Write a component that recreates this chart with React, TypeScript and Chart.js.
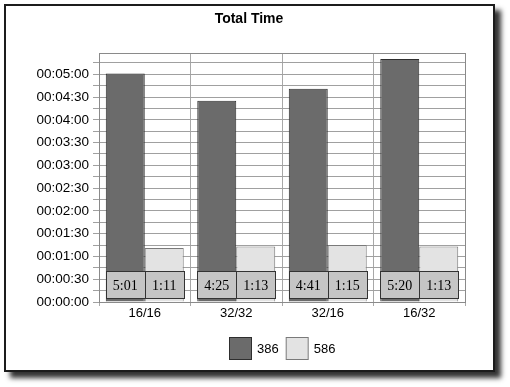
import { useEffect, useRef } from 'react';
import { Chart, registerables } from 'chart.js';

Chart.register(...registerables);

const CATEGORIES = ['16/16', '32/32', '32/16', '16/32'];
const SERIES_NAMES = ['386', '586'];
// seconds
const SERIES_386 = [301, 265, 281, 320];
const SERIES_586 = [71, 73, 75, 73];
const Y_TICKS = [0, 15, 30, 45, 60, 75, 90, 105, 120, 135, 150, 165, 180, 195, 210, 225, 240, 255, 270, 285, 300, 315];
const Y_LABELED = [0, 30, 60, 90, 120, 150, 180, 210, 240, 270, 300];
const Y_MAX = 328;
const TITLE = 'Total Time';

const SANS = "'Liberation Sans', Arial, sans-serif";
const SERIF = "'Liberation Serif', 'Times New Roman', serif";
const DARK = '#6b6b6b';
const DARK_BORDER = '#2e2e2e';
const LIGHT = '#e3e3e3';
const LIGHT_BORDER = '#7a7a7a';

const pad2 = (n: number) => (n < 10 ? '0' + n : '' + n);
const fmtHMS = (s: number) => `${pad2(Math.floor(s / 3600))}:${pad2(Math.floor((s % 3600) / 60))}:${pad2(s % 60)}`;
const fmtMS = (s: number) => `${Math.floor(s / 60)}:${pad2(s % 60)}`;

export default function App() {
  const ref = useRef<HTMLCanvasElement>(null);

  useEffect(() => {
    const frame = {
      id: 'frame',
      beforeDraw(chart: any) {
        const ctx = chart.ctx;
        ctx.save();
        ctx.fillStyle = '#ffffff';
        ctx.fillRect(0, 0, chart.width, chart.height);
        ctx.shadowColor = 'rgba(0,0,0,0.8)';
        ctx.shadowOffsetX = 6;
        ctx.shadowOffsetY = 6;
        ctx.shadowBlur = 5;
        ctx.fillStyle = '#ffffff';
        ctx.fillRect(4, 4, 491, 368);
        ctx.restore();
        ctx.save();
        ctx.strokeStyle = '#1c1c1c';
        ctx.lineWidth = 2;
        ctx.strokeRect(5, 5, 489, 366);
        ctx.restore();
      },
    };

    const valueBoxes = {
      id: 'valueBoxes',
      afterDatasetsDraw(chart: any) {
        const ctx = chart.ctx;
        ctx.save();
        chart.data.datasets.forEach((ds: any, di: number) => {
          const meta = chart.getDatasetMeta(di);
          meta.data.forEach((bar: any, i: number) => {
            const p = bar.getProps(['x', 'width', 'base'], true);
            const x0 = Math.round(p.x - p.width / 2) + 0.5;
            const w = Math.round(p.width);
            const y0 = Math.round(p.base - 31) + 0.5;
            ctx.fillStyle = '#c5c5c5';
            ctx.fillRect(x0, y0, w, 27);
            ctx.strokeStyle = '#333333';
            ctx.lineWidth = 1;
            ctx.strokeRect(x0, y0, w, 27);
            ctx.fillStyle = '#000000';
            ctx.font = `14px ${SERIF}`;
            ctx.textAlign = 'center';
            ctx.textBaseline = 'alphabetic';
            ctx.fillText(fmtMS(ds.data[i]), p.x, y0 + 18);
          });
        });
        ctx.restore();
      },
    };

    const overlay = {
      id: 'overlay',
      afterDraw(chart: any) {
        const ctx = chart.ctx;
        const a = chart.chartArea;
        ctx.save();
        ctx.strokeStyle = '#8a8a8a';
        ctx.lineWidth = 1;
        ctx.strokeRect(Math.round(a.left) + 0.5, Math.round(a.top) + 0.5, Math.round(a.right - a.left), Math.round(a.bottom - a.top));
        // title
        ctx.fillStyle = '#000';
        ctx.font = `bold 14px ${SANS}`;
        ctx.textAlign = 'center';
        ctx.textBaseline = 'middle';
        ctx.fillText(TITLE, 249, 19);
        // legend
        ctx.font = `13px ${SANS}`;
        ctx.textAlign = 'left';
        const box = 22;
        const widths = SERIES_NAMES.map((n) => box + 6 + ctx.measureText(n).width);
        const total = widths.reduce((s, w) => s + w, 0) + 7 * (SERIES_NAMES.length - 1);
        let x = Math.round((a.left + a.right) / 2 - total / 2);
        const cy = 348;
        SERIES_NAMES.forEach((n, i) => {
          ctx.fillStyle = i === 0 ? DARK : LIGHT;
          ctx.fillRect(x + 0.5, cy - 11 + 0.5, box, box);
          ctx.strokeStyle = i === 0 ? DARK_BORDER : LIGHT_BORDER;
          ctx.strokeRect(x + 0.5, cy - 11 + 0.5, box, box);
          ctx.fillStyle = '#000';
          ctx.fillText(n, x + box + 6, cy + 1);
          x += widths[i] + 7;
        });
        ctx.restore();
      },
    };

    const chart = new Chart(ref.current!, {
      type: 'bar',
      data: {
        labels: CATEGORIES,
        datasets: [
          {
            label: SERIES_NAMES[0],
            data: SERIES_386,
            backgroundColor: DARK,
            borderColor: DARK_BORDER,
            borderWidth: 1,
            categoryPercentage: 0.852,
            barPercentage: 1,
          },
          {
            label: SERIES_NAMES[1],
            data: SERIES_586,
            backgroundColor: LIGHT,
            borderColor: LIGHT_BORDER,
            borderWidth: 1,
            categoryPercentage: 0.852,
            barPercentage: 1,
          },
        ],
      },
      options: {
        responsive: false,
        animation: false,
        devicePixelRatio: 1,
        layout: { padding: { left: 10, right: 45, top: 53, bottom: 65 } },
        plugins: {
          legend: { display: false },
          title: { display: false },
          tooltip: { enabled: false },
        },
        scales: {
          x: {
            afterFit: (s: any) => {
              s.height = 20;
            },
            grid: { color: '#a8a8a8', tickLength: 4, offset: true, lineWidth: 1 },
            border: { color: '#8a8a8a' },
            ticks: { color: '#000', font: { family: SANS, size: 13 }, padding: 0, maxRotation: 0 },
          },
          y: {
            min: 0,
            max: Y_MAX,
            afterBuildTicks: (s: any) => {
              s.ticks = Y_TICKS.map((v) => ({ value: v }));
            },
            afterFit: (s: any) => {
              s.width = 89;
            },
            grid: { color: '#a0a0a0', tickLength: 6, lineWidth: 1 },
            border: { color: '#8a8a8a' },
            ticks: {
              autoSkip: false,
              color: '#000',
              font: { family: SANS, size: 13.5 },
              padding: 4,
              callback: (v: any) => (Y_LABELED.includes(Number(v)) ? fmtHMS(Number(v)) : ''),
            },
          },
        },
      },
      plugins: [frame, valueBoxes, overlay],
    });
    return () => chart.destroy();
  }, []);

  return (
    <div style={{ position: 'absolute', left: 0, top: 0, width: 510, height: 387, background: '#fff' }}>
      <canvas ref={ref} width={510} height={387} style={{ display: 'block', width: 510, height: 387 }} />
    </div>
  );
}
